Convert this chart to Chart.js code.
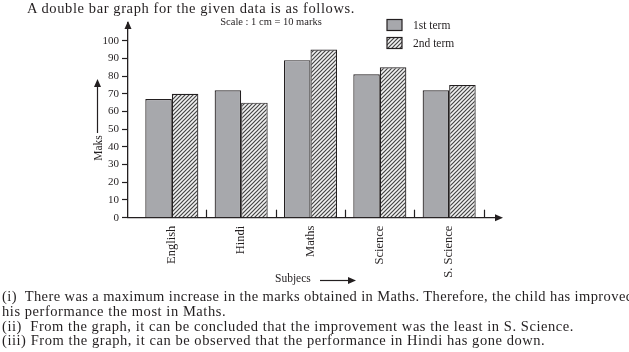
<!DOCTYPE html>
<html>
<head>
<meta charset="utf-8">
<script src="https://cdn.jsdelivr.net/npm/chart.js@4.4.0/dist/chart.umd.min.js"></script>
<style>
  body { margin: 0; background: #fff; }
  #wrap { position: relative; width: 629px; height: 352px; overflow: hidden; font-family: 'Liberation Serif', serif; color: #231f20; }
  #chart { position: absolute; left: 0; top: 0; }
  .title { position: absolute; left: 27px; top: 1px; font-size: 14.5px; line-height: 15px; letter-spacing: 0.6px; white-space: nowrap; }
  .notes { position: absolute; left: 2px; top: 289px; font-size: 14.5px; line-height: 14.8px; letter-spacing: 0.55px; white-space: nowrap; }
  .notes .l1 { letter-spacing: 0.4px; }
</style>
</head>
<body>
<div id="wrap">
  <canvas id="chart" width="629" height="352"></canvas>
  <div class="title">A double bar graph for the given data is as follows.</div>
  <div class="notes">
    <span class="l1">(i)&nbsp; There was a maximum increase in the marks obtained in Maths. Therefore, the child has improved</span><br>
    his performance the most in Maths.<br>
    (ii)&nbsp; From the graph, it can be concluded that the improvement was the least in S. Science.<br>
    (iii) From the graph, it can be observed that the performance in Hindi has gone down.
  </div>
</div>
<script>
// donnees
const subjects = ['English', 'Hindi', 'Maths', 'Science', 'S. Science'];
const firstTerm = [67, 72, 89, 81, 72];
const secondTerm = [70, 65, 95, 85, 75];
const seriesNames = ['1st term', '2nd term'];
const yMax = 100;
const yStep = 10;

const ink = '#231f20';
const grey = '#a7a8ac';

// motif hachure pour le 2e trimestre
function hatch() {
  const c = document.createElement('canvas');
  c.width = 4; c.height = 4;
  const g = c.getContext('2d');
  g.fillStyle = '#f2f2f2';
  g.fillRect(0, 0, 4, 4);
  g.strokeStyle = '#444';
  g.lineWidth = 1.2;
  g.beginPath();
  g.moveTo(-1, 5); g.lineTo(5, -1);
  g.moveTo(-1, 1); g.lineTo(1, -1);
  g.moveTo(3, 5); g.lineTo(5, 3);
  g.stroke();
  return g.createPattern(c, 'repeat');
}
const hatchFill = hatch();

function arrowHead(ctx, x, y, dir) {
  ctx.beginPath();
  if (dir === 'up') {
    ctx.moveTo(x, y); ctx.lineTo(x - 3.5, y + 8); ctx.lineTo(x + 3.5, y + 8);
  } else {
    ctx.moveTo(x, y); ctx.lineTo(x - 8, y - 3.5); ctx.lineTo(x - 8, y + 3.5);
  }
  ctx.closePath();
  ctx.fill();
}

const extras = {
  id: 'extras',
  afterDraw(chart) {
    const { ctx, chartArea: a, scales: { x } } = chart;
    ctx.save();
    ctx.strokeStyle = ink;
    ctx.fillStyle = ink;
    ctx.lineWidth = 1.2;

    // fleches des axes
    arrowHead(ctx, a.left, a.top - 2, 'up');
    arrowHead(ctx, a.right + 6, a.bottom, 'right');

    // petits traits entre les matieres
    subjects.forEach((s, i) => {
      const px = Math.round(x.getPixelForValue(i + 0.5)) + 0.5;
      ctx.beginPath();
      ctx.moveTo(px, a.bottom);
      ctx.lineTo(px, a.bottom - 8);
      ctx.stroke();
    });

    // echelle
    ctx.font = '10.5px "Liberation Serif"';
    ctx.textAlign = 'center';
    ctx.textBaseline = 'middle';
    ctx.fillText('Scale : 1 cm = 10 marks', 271, 22);

    // legende
    ctx.font = '11.5px "Liberation Serif"';
    ctx.textAlign = 'left';
    chart.data.datasets.forEach((ds, i) => {
      const by = 19.5 + i * 18;
      ctx.fillStyle = ds.backgroundColor;
      ctx.fillRect(387, by, 15, 11);
      ctx.strokeRect(387, by, 15, 11);
      ctx.fillStyle = ink;
      ctx.fillText(ds.label, 413, by + 6);
    });

    // titre axe y
    ctx.save();
    ctx.translate(99, 148);
    ctx.rotate(-Math.PI / 2);
    ctx.textAlign = 'center';
    ctx.fillText('Maks', 0, 0);
    ctx.restore();
    ctx.beginPath();
    ctx.moveTo(97.5, 133);
    ctx.lineTo(97.5, 86);
    ctx.stroke();
    arrowHead(ctx, 97.5, 79, 'up');

    // titre axe x
    ctx.textAlign = 'left';
    ctx.fillText('Subjecs', 275, 279);
    ctx.beginPath();
    ctx.moveTo(320, 280.5);
    ctx.lineTo(350, 280.5);
    ctx.stroke();
    arrowHead(ctx, 356, 280.5, 'right');
    ctx.restore();
  }
};

Chart.defaults.font.family = '"Liberation Serif", serif';
Chart.defaults.color = ink;

new Chart(document.getElementById('chart'), {
  type: 'bar',
  data: {
    datasets: [{
      label: seriesNames[0],
      data: subjects.map((s, i) => ({ x: i, y: firstTerm[i] })),
      backgroundColor: grey,
      borderColor: ink,
      borderWidth: 1.2
    }, {
      label: seriesNames[1],
      data: subjects.map((s, i) => ({ x: i, y: secondTerm[i] })),
      backgroundColor: hatchFill,
      borderColor: ink,
      borderWidth: 1.2
    }]
  },
  options: {
    responsive: false,
    animation: false,
    layout: { padding: { left: 0, right: 132, top: 23, bottom: 0 } },
    datasets: { bar: { categoryPercentage: 0.765, barPercentage: 1 } },
    plugins: {
      legend: { display: false },
      tooltip: { enabled: false }
    },
    scales: {
      x: {
        type: 'linear',
        offset: false,
        min: -0.632,
        max: 4.69,
        afterFit: (s) => { s.height = 134.3; },
        grid: { display: false },
        border: { color: ink, width: 1.3 },
        ticks: {
          stepSize: 1,
          includeBounds: false,
          autoSkip: false,
          maxRotation: 90,
          minRotation: 90,
          padding: 0,
          font: { size: 12.5 },
          callback: (v) => Number.isInteger(v) && subjects[v] ? subjects[v] : ''
        }
      },
      y: {
        min: 0,
        max: yMax + yStep,
        afterFit: (s) => { s.width = 128; },
        grid: {
          drawOnChartArea: false,
          tickLength: 6,
          tickWidth: 1.2,
          tickColor: (c) => c.tick && c.tick.value > yMax ? 'rgba(0,0,0,0)' : ink
        },
        border: { color: ink, width: 1.3 },
        ticks: {
          stepSize: yStep,
          padding: 3,
          font: { size: 11 },
          callback: (v) => v > yMax ? '' : v
        }
      }
    }
  },
  plugins: [extras]
});
</script>
</body>
</html>
